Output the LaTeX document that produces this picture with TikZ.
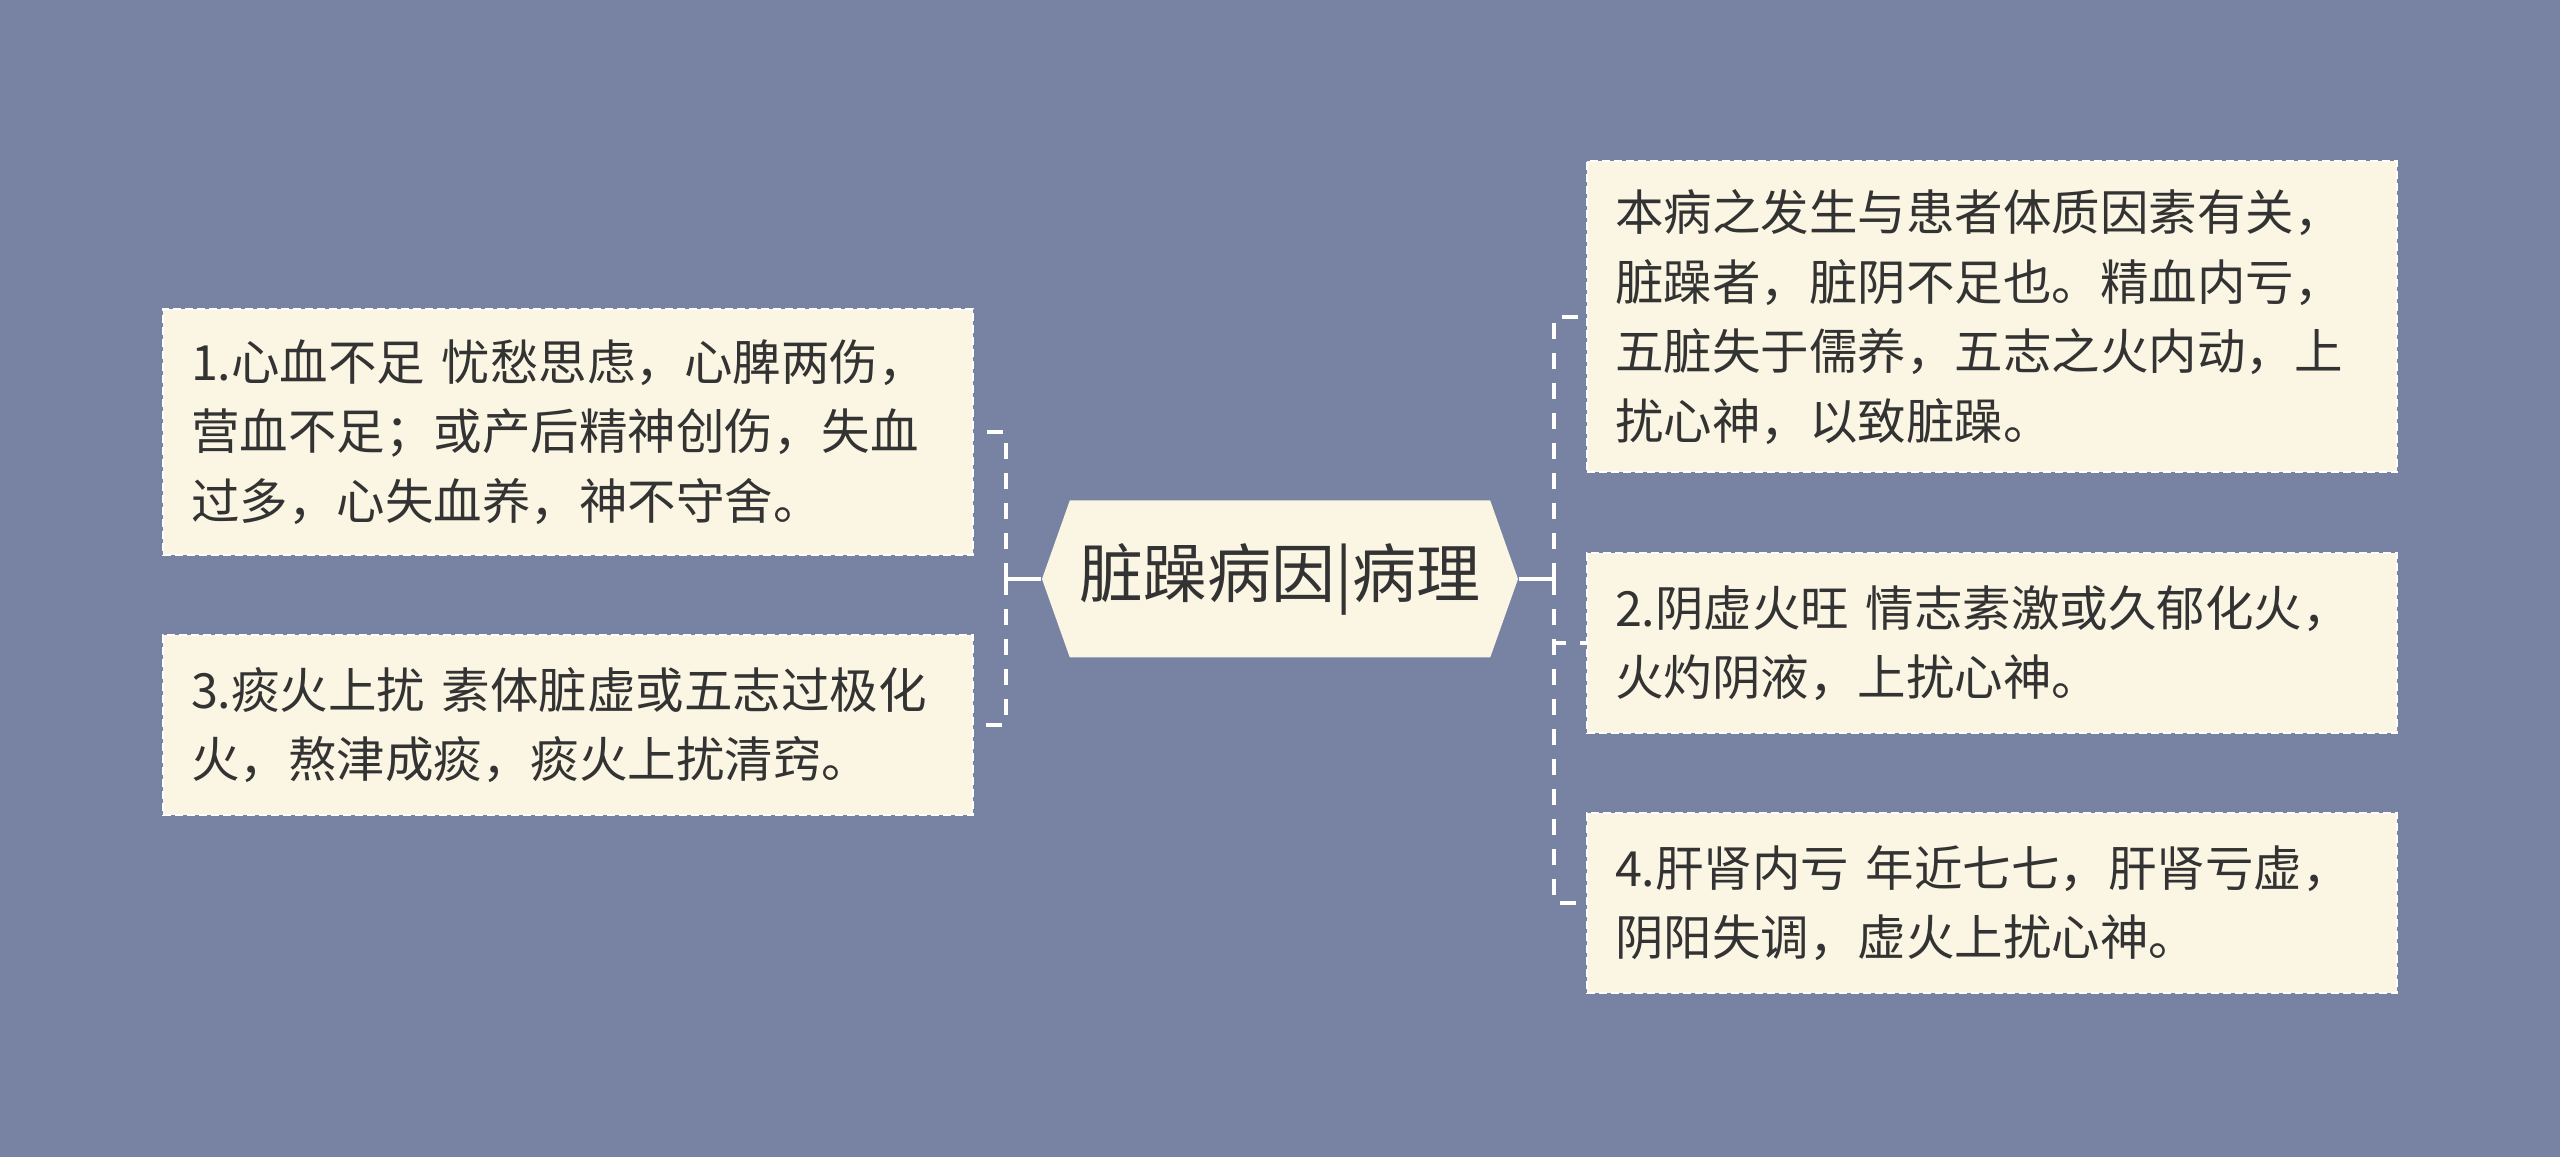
\documentclass[tikz,border=0pt]{standalone}
\usepackage{fontspec}
\setmainfont{Noto Sans CJK SC}
\usepackage{tikz}
\usetikzlibrary{shapes.symbols}
\definecolor{mapBg}{RGB}{120,131,163}
\definecolor{mapBox}{RGB}{250,246,227}
\definecolor{mapTxt}{RGB}{51,51,51}
\tikzset{
  hubnode/.style={shape=signal, signal to=west and east, signal pointer angle=141,
    fill=mapBox, text=mapTxt, minimum width=47.6mm, minimum height=15.7mm, inner sep=0pt,
    font=\fontsize{18.2pt}{22pt}\selectfont},
  leafbox/.style={rectangle, fill=mapBox, draw=white, line width=0.2mm,
    dash pattern=on 0.8mm off 0.4mm, text=mapTxt, text width=75.4mm,
    inner xsep=2.8mm, inner ysep=0pt, align=left,
    font=\fontsize{13.8pt}{19.8pt}\selectfont},
  stub/.style={draw=white, line width=0.4mm},
  link/.style={draw=white, line width=0.4mm, dash pattern=on 1.6mm off 1.4mm},
}

\begin{document}
\begin{tikzpicture}[x=0.1mm, y=-0.1mm]
% ---- background, pixel grid of the 2560x1157 sheet ----
\fill[mapBg] (0,0) rectangle (2560,1157);
\useasboundingbox (0,0) rectangle (2560,1157);
% ---- hub ----
\node[hubnode] (hub) at (1280,579) {脏躁病因|病理};
% ---- left branch ----
\node[leafbox, minimum height=24.6mm] (xinxue) at (568,432)
  {1.心血不足~忧愁思虑，心脾两伤，\\营血不足；或产后精神创伤，失血\\过多，心失血养，神不守舍。};
\node[leafbox, minimum height=18mm] (tanhuo) at (568,725)
  {3.痰火上扰~素体脏虚或五志过极化\\火，熬津成痰，痰火上扰清窍。};
% ---- right branch ----
\node[leafbox, minimum height=31.1mm] (bingji) at (1992,317)
  {本病之发生与患者体质因素有关，\\脏躁者，脏阴不足也。精血内亏，\\五脏失于儒养，五志之火内动，上\\扰心神，以致脏躁。};
\node[leafbox, minimum height=18mm] (yinxu) at (1992,643)
  {2.阴虚火旺~情志素激或久郁化火，\\火灼阴液，上扰心神。};
\node[leafbox, minimum height=18mm] (ganshen) at (1992,903)
  {4.肝肾内亏~年近七七，肝肾亏虚，\\阴阳失调，虚火上扰心神。};
% ---- connectors: solid stub to a dashed trunk, then elbow to each box ----
\draw[stub] (hub.west) -- ++(-35,0) coordinate (ltrunk);
\draw[stub] (hub.east) -- ++(35,0) coordinate (rtrunk);
\foreach \leaf in {xinxue,tanhuo}
  \draw[link] (ltrunk) |- (\leaf.east);
\foreach \leaf in {bingji,yinxu,ganshen}
  \draw[link] (rtrunk) |- (\leaf.west);
\end{tikzpicture}
\end{document}
